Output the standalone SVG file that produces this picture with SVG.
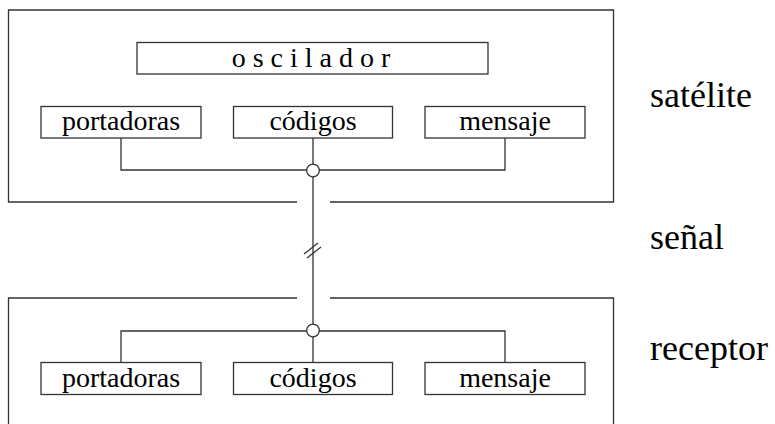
<svg xmlns="http://www.w3.org/2000/svg" width="775" height="424" viewBox="0 0 775 424">
<style>
.ln{fill:none;stroke:#333;stroke-width:1.3}
.bx{fill:#fff;stroke:#333;stroke-width:1.3}
.t{font-family:'Liberation Serif','Times New Roman',serif;font-size:28px;fill:#000;text-anchor:middle}
.lb{font-family:'Liberation Serif','Times New Roman',serif;font-size:36px;fill:#000}
</style>
<rect width="775" height="424" fill="#fff"/>
<g id="satelite">
<path class="ln" d="M297,202 H8.5 V10 H613.5 V202 H330"/>
<text class="lb" x="650" y="107">satélite</text>
</g>
<g id="receptor">
<path class="ln" d="M297,298 H8.5 V424 M613.5,424 V298 H330"/>
<text class="lb" x="650" y="360">receptor</text>
</g>
<g id="senal">
<text class="lb" x="650" y="249">señal</text>
</g>
<g id="connectors">
<path class="ln" d="M121,138 V170 H505 V138 M313,138 V164"/>
<path class="ln" d="M313,177 V324"/>
<path class="ln" d="M121,362.5 V331 H505 V362.5 M313,337 V362.5"/>
<path class="ln" d="M304,254 L318,243 M307,258 L321,247"/>
<circle class="bx" cx="313" cy="170.5" r="6.3"/>
<circle class="bx" cx="313" cy="330.5" r="6.3"/>
</g>
<g id="oscilador">
<rect class="bx" x="137" y="42.5" width="351" height="31.5"/>
<text class="t" x="311" y="67">o s c i l a d o r</text>
</g>
<g id="portadoras-s">
<rect class="bx" x="41" y="106.5" width="160" height="31.5"/>
<text class="t" x="121" y="130">portadoras</text>
</g>
<g id="codigos-s">
<rect class="bx" x="233.5" y="106.5" width="159" height="31.5"/>
<text class="t" x="313" y="130">códigos</text>
</g>
<g id="mensaje-s">
<rect class="bx" x="425" y="106.5" width="160" height="31.5"/>
<text class="t" x="505" y="130">mensaje</text>
</g>
<g id="portadoras-r">
<rect class="bx" x="41" y="362.5" width="160" height="32"/>
<text class="t" x="121" y="387">portadoras</text>
</g>
<g id="codigos-r">
<rect class="bx" x="233.5" y="362.5" width="159" height="32"/>
<text class="t" x="313" y="387">códigos</text>
</g>
<g id="mensaje-r">
<rect class="bx" x="425" y="362.5" width="160" height="32"/>
<text class="t" x="505" y="387">mensaje</text>
</g>
</svg>
